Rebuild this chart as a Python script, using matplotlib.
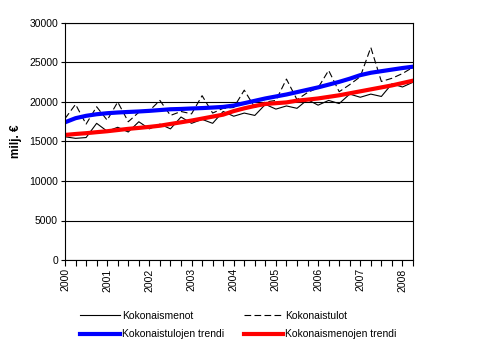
import numpy as np
import matplotlib
matplotlib.use("Agg")
import matplotlib.pyplot as plt

plt.rcParams['font.family'] = ['Liberation Sans', 'DejaVu Sans']

# quarterly data 2000Q1 - 2008Q2, milj. euroa
years = ['2000', '2001', '2002', '2003', '2004', '2005', '2006', '2007', '2008']

menot = [15600, 15400, 15500, 17300,
         16300, 16800, 16200, 17500,
         16600, 17200, 16600, 18100,
         17300, 17800, 17300, 18800,
         18200, 18600, 18300, 19700,
         19100, 19500, 19200, 20300,
         19600, 20200, 19800, 21000,
         20600, 21000, 20700, 22300,
         21900, 22500]

tulot = [17900, 19700, 17200, 19400,
         17700, 20000, 17500, 18700,
         18900, 20200, 18300, 18800,
         18500, 20800, 18600, 19200,
         19300, 21500, 19300, 20000,
         20200, 22900, 20300, 21200,
         21800, 24000, 21300, 22200,
         23200, 26900, 22600, 23000,
         23600, 24400]

tulot_trendi = [17430, 17950, 18250, 18450, 18580, 18670, 18740, 18800,
                18880, 18980, 19080, 19120, 19180, 19230, 19300, 19380,
                19550, 19850, 20150, 20450, 20700, 20950, 21250, 21550,
                21850, 22200, 22550, 22950, 23400, 23700, 23900, 24100,
                24300, 24470]

menot_trendi = [15830, 15950, 16050, 16180, 16300, 16450, 16600, 16720,
                16850, 17000, 17220, 17430, 17650, 17900, 18150, 18400,
                18850, 19200, 19500, 19750, 19850, 19950, 20170, 20300,
                20450, 20650, 20850, 21100, 21350, 21600, 21850, 22100,
                22400, 22700]

x = np.arange(len(menot))

fig = plt.figure(figsize=(4.8, 3.51), dpi=100)
ax = fig.add_axes([65/480, 1 - 260/351, 348/480, 237/351])

l1, = ax.plot(x, menot, color='black', lw=0.8, label='Kokonaismenot')
l2, = ax.plot(x, tulot, color='black', lw=0.8, ls=(0, (6, 3)), label='Kokonaistulot')
l3, = ax.plot(x, tulot_trendi, color='#0000ff', lw=3, label='Kokonaistulojen trendi')
l4, = ax.plot(x, menot_trendi, color='#ff0000', lw=3, label='Kokonaismenojen trendi')

ax.set_xlim(0, 33)
ax.set_ylim(0, 30000)
ax.set_yticks(range(0, 30001, 5000))
ax.grid(axis='y', color='black', lw=0.8)
ax.set_axisbelow(True)

ax.set_xticks(np.arange(0, 33, 4))
ax.set_xticklabels(years, rotation=90, fontsize=7.5)
ax.set_xticks(np.arange(0, 34, 1), minor=True)
ax.tick_params(axis='x', which='both', length=4, width=0.8, direction='out', pad=2)
ax.tick_params(axis='y', length=3, width=0.8, labelsize=7.5, pad=2)

for s in ax.spines.values():
    s.set_linewidth(0.8)

ax.set_ylabel('milj. €', fontsize=8.5, fontweight='bold', labelpad=5)

fig.legend(handles=[l1, l3, l2, l4], ncol=2, frameon=False,
           loc='upper left', bbox_to_anchor=(80/480, 1 - 311/351),
           borderaxespad=0, borderpad=0, fontsize=7.5,
           handlelength=3.8, handletextpad=0.2, columnspacing=1.9,
           labelspacing=0.8)

fig.savefig('out.png', dpi=100)
